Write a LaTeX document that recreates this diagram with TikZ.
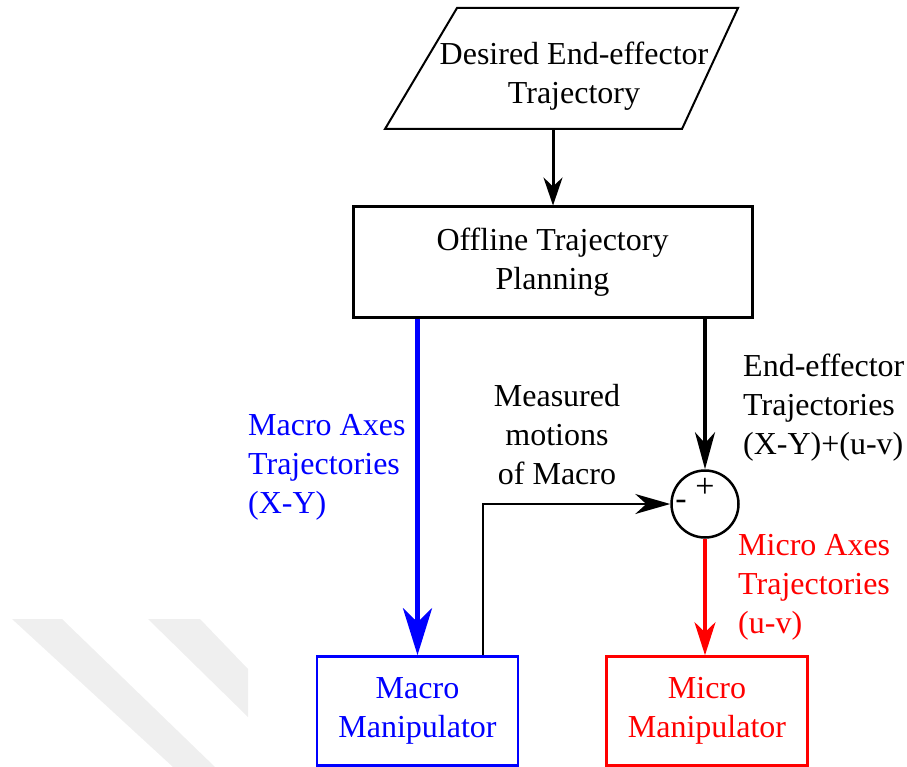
\documentclass[tikz,border=0pt]{standalone}
\usepackage{fontspec}
\setmainfont{Liberation Serif}
\usetikzlibrary{arrows.meta,calc}
\definecolor{wmgray}{RGB}{239,239,239}
\definecolor{axblue}{RGB}{0,0,255}
\definecolor{axred}{RGB}{255,0,0}
\begin{document}
\begin{tikzpicture}[x=1pt,y=-1pt,
  txt/.style={font=\fontsize{32}{39}\selectfont, inner sep=0pt, align=center},
  lbl/.style={font=\fontsize{32}{39}\selectfont, inner sep=0pt, align=left, anchor=west},
  block/.style={txt, draw, line width=3pt, minimum width=399pt, minimum height=110pt},
  manip/.style={txt, draw, line width=2.6pt, minimum width=201pt, minimum height=109pt},
  sumnode/.style={draw, circle, line width=2.5pt, minimum size=67pt, inner sep=0pt},
  sign/.style={font=\fontsize{34}{34}\selectfont, inner sep=0pt}]
\useasboundingbox (0,0) rectangle (907,767);

% faint diagonal stripes in the lower left corner
\fill[wmgray] (12,619) -- (62,619) -- (215,767) -- (173,767) -- cycle;
\fill[wmgray] (148,619) -- (200,619) -- (248,669) -- (248,717) -- cycle;

% input parallelogram
\draw[line width=2pt, line join=miter] (457,8) -- (738,8) -- (682,129) -- (385,129) -- cycle;
\node[txt] (desired) at (574,76) {Desired End-effector\\Trajectory};
\coordinate (desiredout) at (553,129);

% blocks
\node[block] (plan) at (552.5,262) {Offline Trajectory\\Planning};
\node[manip, draw=axblue, text=axblue] (macro) at (417.5,711) {Macro\\Manipulator};
\node[manip, draw=axred, text=axred] (micro) at (707,711) {Micro\\Manipulator};
\node[sumnode] (sum) at (705,504) {};
\node[sign] (plus) at (705,488) {+};
\node[sign] (minus) at (681,505) {-};

% labels
\node[lbl, text=axblue] (macrolbl) at (248,467) {Macro Axes\\Trajectories\\(X-Y)};
\node[txt] (measlbl) at (557,435) {Measured\\motions\\of Macro};
\node[lbl] (eelbl) at (743,408) {End-effector\\Trajectories\\(X-Y)+(u-v)};
\node[lbl, text=axred] (microlbl) at (738,587) {Micro Axes\\Trajectories\\(u-v)};

% connectors
\draw[line width=3pt, -{Stealth[length=28pt, width=19pt, inset=9pt]}]
  (desiredout) -- (desiredout |- plan.north);
\draw[axblue, line width=5pt, -{Stealth[length=47pt, width=29pt, inset=14pt]}]
  (plan.south -| macro.north) -- (macro.north);
\draw[line width=3.5pt, -{Stealth[length=37pt, width=20pt, inset=11pt]}]
  (plan.south -| sum.north) -- (sum.north);
\draw[axred, line width=3.5pt, -{Stealth[length=33pt, width=21pt, inset=10pt]}]
  (sum.south) -- (sum.south |- micro.north);
\draw[line width=2pt, -{Stealth[length=35pt, width=20pt, inset=11pt]}]
  ([xshift=-36pt]macro.north east) |- (sum.west);
\end{tikzpicture}
\end{document}
